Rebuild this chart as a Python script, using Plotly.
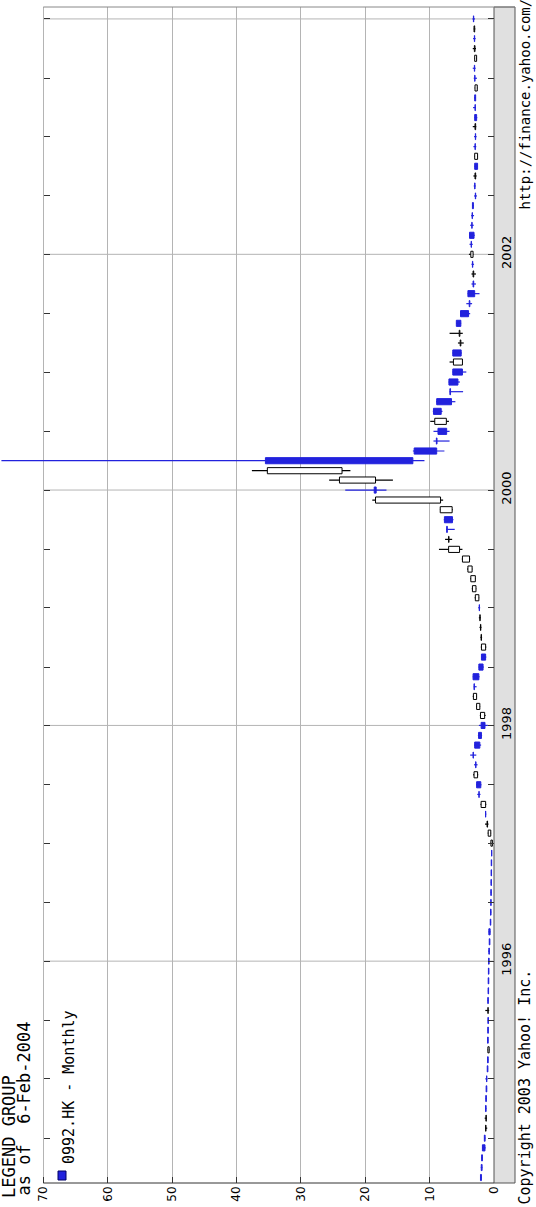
import plotly.graph_objects as go
import pandas as pd

# ---------------- data (monthly candles, HK$) ----------------
dates = pd.date_range("1994-03-01", "2004-01-01", freq="MS").strftime("%Y-%m-%d").tolist()

opens = [2.10, 1.98, 1.92, 1.80, 1.50, 1.25, 1.20, 1.32, 1.28, 1.22,
         1.15, 1.05, 1.00, 0.75, 1.00, 0.97, 0.95, 0.90, 0.97, 0.92,
         0.90, 0.87, 0.84, 0.80, 0.74, 0.80, 0.58, 0.54, 0.51, 0.49,
         0.47, 0.45, 0.43, 0.37, 0.25, 0.50, 1.00, 1.32, 1.30, 2.35,
         2.70, 2.55, 2.85, 3.25, 3.00, 2.40, 2.00, 1.45, 2.20, 2.70,
         3.10, 3.25, 2.35, 1.95, 1.30, 1.95, 2.05, 2.15, 2.30, 2.35,
         2.80, 2.90, 3.40, 3.80, 5.35, 7.00, 7.35, 7.70, 6.50, 8.30,
         18.60, 18.40, 23.60, 35.50, 12.40, 8.95, 8.70, 7.40, 9.40, 8.90,
         6.85, 7.00, 6.40, 4.90, 6.40, 5.15, 5.30, 5.85, 5.20, 3.85,
         4.05, 3.25, 3.15, 3.35, 3.25, 3.55, 3.80, 3.45, 3.40, 3.35,
         2.90, 3.00, 2.85, 3.00, 2.55, 2.95, 2.90, 2.85, 3.00, 2.95,
         3.00, 2.60, 3.00, 3.05, 2.70, 2.95, 3.05, 3.00, 3.20]
highs = [2.15, 2.05, 1.98, 1.85, 1.55, 1.40, 1.45, 1.35, 1.30, 1.25,
         1.35, 1.07, 1.02, 1.00, 1.02, 0.99, 0.97, 1.35, 1.00, 0.95,
         0.92, 0.90, 0.88, 0.90, 0.76, 0.85, 0.60, 0.56, 0.53, 0.51,
         0.49, 0.47, 0.45, 0.45, 0.55, 0.98, 1.40, 1.35, 2.10, 2.60,
         2.80, 3.25, 3.10, 3.70, 3.10, 2.50, 2.35, 2.20, 2.80, 3.30,
         3.15, 3.30, 2.40, 2.00, 2.05, 2.10, 2.25, 2.35, 2.45, 3.00,
         3.45, 3.70, 4.20, 5.00, 8.55, 7.60, 7.45, 7.80, 8.40, 18.90,
         23.10, 25.60, 37.60, 76.50, 12.60, 9.40, 9.40, 9.90, 9.50, 9.00,
         6.90, 7.05, 6.45, 6.90, 6.45, 5.60, 6.90, 5.90, 5.25, 4.30,
         4.10, 3.50, 3.50, 3.50, 3.90, 3.80, 3.85, 3.70, 3.55, 3.40,
         3.10, 3.15, 3.20, 3.05, 3.05, 3.20, 3.10, 3.30, 3.05, 3.25,
         3.10, 3.00, 3.15, 3.30, 3.05, 3.30, 3.25, 3.15, 3.35]
lows = [1.90, 1.80, 1.75, 1.30, 1.33, 1.05, 1.10, 1.18, 1.14, 1.08,
        1.00, 0.92, 0.88, 0.70, 0.88, 0.86, 0.84, 0.75, 0.85, 0.82,
        0.79, 0.77, 0.74, 0.65, 0.62, 0.55, 0.45, 0.42, 0.40, 0.38,
        0.36, 0.35, 0.33, 0.30, 0.22, 0.45, 0.85, 1.20, 1.20, 2.10,
        1.95, 2.45, 2.55, 2.75, 2.00, 1.85, 0.95, 1.30, 2.15, 2.65,
        2.70, 2.25, 1.60, 1.20, 1.20, 1.85, 1.95, 2.05, 2.15, 2.30,
        2.75, 2.85, 3.35, 3.70, 4.90, 6.50, 6.10, 6.30, 6.40, 7.90,
        16.70, 15.70, 22.30, 10.80, 7.70, 6.90, 6.90, 7.00, 8.00, 6.00,
        4.80, 5.30, 4.30, 4.85, 5.00, 4.70, 4.85, 5.10, 3.70, 3.40,
        2.25, 2.80, 2.80, 3.10, 3.20, 3.30, 3.00, 3.15, 3.10, 3.15,
        2.65, 2.85, 2.70, 2.50, 2.50, 2.75, 2.70, 2.75, 2.60, 2.80,
        2.80, 2.55, 2.65, 2.85, 2.65, 2.80, 2.85, 2.90, 2.95]
closes = [1.95, 1.85, 1.80, 1.40, 1.38, 1.30, 1.25, 1.22, 1.18, 1.12,
          1.12, 0.95, 0.90, 0.95, 0.90, 0.88, 0.86, 0.95, 0.88, 0.84,
          0.81, 0.79, 0.76, 0.72, 0.64, 0.60, 0.50, 0.46, 0.44, 0.42,
          0.40, 0.38, 0.36, 0.35, 0.48, 0.90, 1.08, 1.28, 2.00, 2.30,
          2.05, 3.10, 2.80, 3.20, 2.20, 1.95, 1.40, 2.10, 2.70, 3.20,
          3.05, 2.35, 1.70, 1.30, 1.95, 2.00, 2.10, 2.20, 2.25, 2.90,
          3.35, 3.60, 4.05, 4.90, 7.05, 7.05, 7.25, 6.45, 8.35, 18.40,
          18.30, 24.00, 35.20, 12.60, 8.90, 8.85, 7.35, 9.20, 8.20, 6.60,
          6.75, 5.60, 4.90, 6.30, 5.10, 5.25, 5.40, 5.15, 3.95, 3.75,
          3.00, 3.15, 3.25, 3.30, 3.60, 3.50, 3.10, 3.40, 3.35, 3.20,
          2.85, 2.95, 2.95, 2.55, 3.00, 2.90, 2.85, 2.95, 2.70, 2.90,
          2.85, 2.95, 2.95, 3.00, 3.00, 3.05, 3.00, 3.10, 3.15]

price_ticks = [0, 10, 20, 30, 40, 50, 60, 70]
price_labels = ["0", "10", "20", "30", "40", "50", "60", "70"]
time_ticks = ["1994-07-01", "1995-01-01", "1995-07-01", "1996-01-01", "1996-07-01",
              "1997-01-01", "1997-07-01", "1998-01-01", "1998-07-01", "1999-01-01",
              "1999-07-01", "2000-01-01", "2000-07-01", "2001-01-01", "2001-07-01",
              "2002-01-01", "2002-07-01", "2003-01-01", "2003-07-01", "2004-01-01"]
time_labels = ["", "", "", "1996", "", "", "", "1998", "", "",
               "", "2000", "", "", "", "2002", "", "", "", ""]
grid_years = ["1996-01-01", "1998-01-01", "2000-01-01", "2002-01-01", "2004-01-01"]

# ---------------- styling ----------------
BLUE = "#2222dd"
GRID = "#b4b4b4"
DARK = "#333333"
PLOT_W = 494.0
PLOT_H = 1176.0
X_MAX = 76.72
Y_RANGE = ["1994-02-12", "2004-02-07"]
BODY_MS = 19 * 86400000
LEFT_FRAC = 43.3 / PLOT_W
STRIP_R = 515.0 / PLOT_W


def px_x(p):
    return p / PLOT_W


def px_y(p):
    return (1183.0 - p) / PLOT_H


n = len(dates)
up = [i for i in range(n) if closes[i] >= opens[i]]
dn = [i for i in range(n) if closes[i] < opens[i]]


def wicks(idx):
    xs, ys = [], []
    for i in idx:
        xs += [lows[i], highs[i], None]
        ys += [dates[i], dates[i], None]
    return xs, ys


fig = go.Figure()

for idx, col in ((up, "black"), (dn, BLUE)):
    wx, wy = wicks(idx)
    fig.add_trace(go.Scatter(x=wx, y=wy, mode="lines",
                             line=dict(color=col, width=1.2),
                             hoverinfo="skip", yaxis="y"))

fig.add_trace(go.Bar(orientation="h",
                     y=[dates[i] for i in up],
                     x=[closes[i] - opens[i] for i in up],
                     base=[opens[i] for i in up],
                     width=BODY_MS,
                     marker=dict(color="white", line=dict(color="black", width=1)),
                     yaxis="y2"))
fig.add_trace(go.Bar(orientation="h",
                     y=[dates[i] for i in dn],
                     x=[closes[i] - opens[i] for i in dn],
                     base=[opens[i] for i in dn],
                     width=BODY_MS,
                     marker=dict(color=BLUE, line=dict(color=BLUE, width=1)),
                     yaxis="y2"))

shapes = []
for g in grid_years:
    shapes.append(dict(type="line", xref="x", yref="y", x0=70, x1=0, y0=g, y1=g,
                       line=dict(color=GRID, width=1), layer="below"))
# right date strip
shapes.append(dict(type="rect", xref="paper", yref="paper", x0=1.0, x1=STRIP_R, y0=0, y1=1,
                   fillcolor="#e0e0e0", line=dict(color="#555555", width=1), layer="below"))
# top and bottom frame
shapes.append(dict(type="line", xref="paper", yref="paper", x0=LEFT_FRAC, x1=STRIP_R, y0=1, y1=1,
                   line=dict(color="#888888", width=1)))
shapes.append(dict(type="line", xref="paper", yref="paper", x0=LEFT_FRAC, x1=1.0, y0=0, y1=0,
                   line=dict(color=DARK, width=1)))
# legend swatch
shapes.append(dict(type="rect", xref="paper", yref="paper",
                   x0=px_x(58), x1=px_x(66), y0=px_y(1180), y1=px_y(1171),
                   fillcolor=BLUE, line=dict(color="#000066", width=1)))

mono = "DejaVu Sans Mono"
annotations = [
    dict(text="LEGEND GROUP", x=px_x(8.5), y=px_y(1073), yanchor="top", size=17),
    dict(text="as of  6-Feb-2004", x=px_x(23.5), y=px_y(1020), yanchor="top", size=17),
    dict(text="0992.HK - Monthly", x=px_x(69), y=px_y(1008), yanchor="top", size=15),
    dict(text="Copyright 2003 Yahoo! Inc.", x=px_x(524), y=px_y(968), yanchor="top", size=15),
    dict(text="http://finance.yahoo.com/", x=px_x(524), y=px_y(212), yanchor="bottom", size=14),
]
for a in annotations:
    sz = a.pop("size")
    a.update(xref="paper", yref="paper", xanchor="center", showarrow=False, textangle=-90,
             font=dict(family=mono, size=sz, color="black"))

fig.update_layout(
    width=536, height=1207,
    margin=dict(l=0, r=42, t=7, b=24, pad=0),
    paper_bgcolor="white", plot_bgcolor="white",
    showlegend=False, barmode="overlay",
    xaxis=dict(range=[X_MAX, 0], tickmode="array", tickvals=price_ticks, ticktext=price_labels,
               tickangle=-90, ticks="inside", ticklen=6, tickcolor=DARK, tickwidth=1,
               showgrid=True, gridcolor=GRID, gridwidth=1, zeroline=False, showline=False,
               tickfont=dict(family="DejaVu Sans", size=12, color="black")),
    yaxis=dict(type="date", range=Y_RANGE, side="right", tickmode="array",
               tickvals=time_ticks, ticktext=time_labels, tickangle=-90,
               ticks="inside", ticklen=6, tickcolor=DARK, showgrid=False, zeroline=False,
               showline=False, ticklabelstandoff=3,
               tickfont=dict(family="DejaVu Sans", size=13, color="black")),
    yaxis2=dict(type="date", range=Y_RANGE, overlaying="y", anchor="free", position=LEFT_FRAC,
                side="left", tickmode="array", tickvals=time_ticks, showticklabels=False,
                ticks="inside", ticklen=6, tickcolor=DARK, showgrid=False, zeroline=False,
                showline=False),
    shapes=shapes,
    annotations=annotations,
)

fig.write_html("out.html",
               config={"displayModeBar": False},
               post_script="document.body.style.margin='0px';"
                           "document.body.style.padding='0px';"
                           "document.body.style.overflow='hidden';")
